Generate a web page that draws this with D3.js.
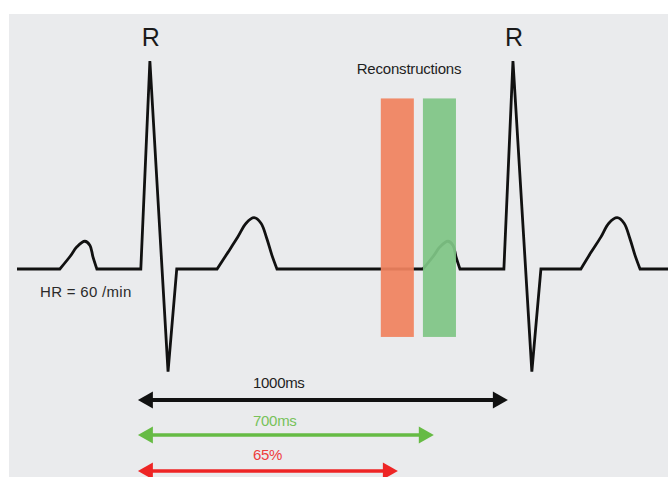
<!DOCTYPE html>
<html>
<head>
<meta charset="utf-8">
<script src="https://cdn.jsdelivr.net/npm/d3@7"></script>
<style>
  html, body { margin: 0; padding: 0; background: #ffffff; }
  svg { display: block; }
  text { font-family: "Liberation Sans", Arial, Helvetica, sans-serif; }
</style>
</head>
<body>
<svg id="chart" width="668" height="477"></svg>
<script>
// ---- Data (time in ms relative to first R peak, amplitude in mV) ----
const ecgTime = [-366, -248, -220, -201, -179, -165, -157, -146, -25, 0, 50, 74,
                 185, 215, 242, 265, 287, 306, 322, 336, 350,
                 752, 780, 799, 821, 835, 843, 854, 975, 1000, 1052, 1077,
                 1187, 1215, 1242, 1264, 1287, 1306, 1322, 1336, 1350, 1427];
const ecgAmp  = [0, 0, 0.09, 0.16, 0.2, 0.17, 0.09, 0, 0, 1.5, -0.74, 0,
                 0, 0.12, 0.23, 0.33, 0.37, 0.33, 0.22, 0.1, 0,
                 0, 0.09, 0.16, 0.2, 0.17, 0.09, 0, 0, 1.5, -0.74, 0,
                 0, 0.12, 0.23, 0.33, 0.37, 0.33, 0.22, 0.1, 0, 0];
// wave id per point: 0 = straight part, n = n-th rounded wave (P or T)
const ecgWave = [0, 1, 1, 1, 1, 1, 1, 1, 0, 0, 0, 0,
                 2, 2, 2, 2, 2, 2, 2, 2, 2,
                 3, 3, 3, 3, 3, 3, 3, 0, 0, 0, 0,
                 4, 4, 4, 4, 4, 4, 4, 4, 4, 0];

const rPeakTimes = [0, 1000];
const rPeakLabels = ["R", "R"];

const windowNames = ["early", "mid"];
const windowStart = [636, 752];
const windowEnd   = [727, 843];
const windowTop = 1.23, windowBottom = -0.49;

const intervalLabels = ["1000ms", "700ms", "65%"];
const intervalStart = [-33, -33, -33];
const intervalEnd   = [986, 782, 683];

const titleText = "Reconstructions";
const hrText = "HR = 60 /min";

// ---- Layout ----
const svg = d3.select("#chart");
const W = 668, H = 477;

svg.append("rect").attr("x", 9).attr("y", 14).attr("width", W - 9).attr("height", H - 14)
   .attr("fill", "#eaebed");

const x = d3.scaleLinear().domain([-366, 1427]).range([17, 668]);
const y = d3.scaleLinear().domain([-0.75, 1.5]).range([373, 61]);

// ---- ECG trace: split into straight and rounded pieces ----
const pts = ecgTime.map((t, i) => ({ t, v: ecgAmp[i], w: ecgWave[i] }));
const segType = i => (pts[i - 1].w !== 0 && pts[i - 1].w === pts[i].w) ? 1 : 0;
const pieces = [];
let cur = [pts[0]];
let curSmooth = segType(1);
for (let i = 1; i < pts.length; i++) {
  const s = segType(i);
  if (s !== curSmooth) {
    pieces.push({ smooth: curSmooth, pts: cur });
    cur = [pts[i - 1]];
    curSmooth = s;
  }
  cur.push(pts[i]);
}
pieces.push({ smooth: curSmooth, pts: cur });

const lineLin = d3.line().x(d => x(d.t)).y(d => y(d.v)).curve(d3.curveLinear);
const lineSm  = d3.line().x(d => x(d.t)).y(d => y(d.v)).curve(d3.curveCatmullRom.alpha(0.5));
let pathD = "";
pieces.forEach((p, i) => {
  let d = (p.smooth ? lineSm : lineLin)(p.pts);
  if (i > 0) d = "L" + d.slice(1);
  pathD += d;
});

svg.append("path").attr("d", pathD)
   .attr("fill", "none").attr("stroke", "#111").attr("stroke-width", 2.8)
   .attr("stroke-linejoin", "miter").attr("stroke-miterlimit", 4);

// ---- Reconstruction windows ----
const winColors = ["#f0825f", "#7fc585"];
svg.selectAll("rect.win").data(windowNames).enter().append("rect")
   .attr("class", "win")
   .attr("x", (d, i) => x(windowStart[i]))
   .attr("width", (d, i) => x(windowEnd[i]) - x(windowStart[i]))
   .attr("y", y(windowTop))
   .attr("height", y(windowBottom) - y(windowTop))
   .attr("fill", (d, i) => winColors[i])
   .attr("opacity", 0.93);

svg.append("text").attr("x", 409).attr("y", 74).attr("text-anchor", "middle")
   .attr("font-size", 15).attr("fill", "#1e1e1e").attr("letter-spacing", -0.2)
   .text(titleText);

// ---- R labels ----
svg.selectAll("text.r").data(rPeakTimes).enter().append("text")
   .attr("class", "r")
   .attr("x", d => x(d) + 1).attr("y", 46).attr("text-anchor", "middle")
   .attr("font-size", 25).attr("fill", "#1a1a1a")
   .text((d, i) => rPeakLabels[i]);

svg.append("text").attr("x", 40).attr("y", 297)
   .attr("font-size", 15).attr("fill", "#2a2a2a").attr("letter-spacing", 0.3)
   .text(hrText);

// ---- Interval arrows ----
const arrowColors = ["#111111", "#66bb44", "#ee2525"];
const textColors  = ["#1e1e1e", "#77c25a", "#ee3d3d"];
const arrowY = [400, 435, 471];
const labelY = [388, 426, 460];
const strokeW = [4, 3.5, 3.5];

intervalLabels.forEach((lab, i) => {
  const x0 = x(intervalStart[i]), x1 = x(intervalEnd[i]), yy = arrowY[i];
  const hl = 15, hw = 8.5;
  svg.append("line").attr("x1", x0 + hl - 2).attr("x2", x1 - hl + 2)
     .attr("y1", yy).attr("y2", yy)
     .attr("stroke", arrowColors[i]).attr("stroke-width", strokeW[i]);
  svg.append("path")
     .attr("d", `M${x0},${yy} L${x0 + hl},${yy - hw} L${x0 + hl},${yy + hw} Z`)
     .attr("fill", arrowColors[i]);
  svg.append("path")
     .attr("d", `M${x1},${yy} L${x1 - hl},${yy - hw} L${x1 - hl},${yy + hw} Z`)
     .attr("fill", arrowColors[i]);
  svg.append("text").attr("x", 253).attr("y", labelY[i])
     .attr("font-size", 15).attr("fill", textColors[i]).attr("letter-spacing", -0.3)
     .text(lab);
});
</script>
</body>
</html>
